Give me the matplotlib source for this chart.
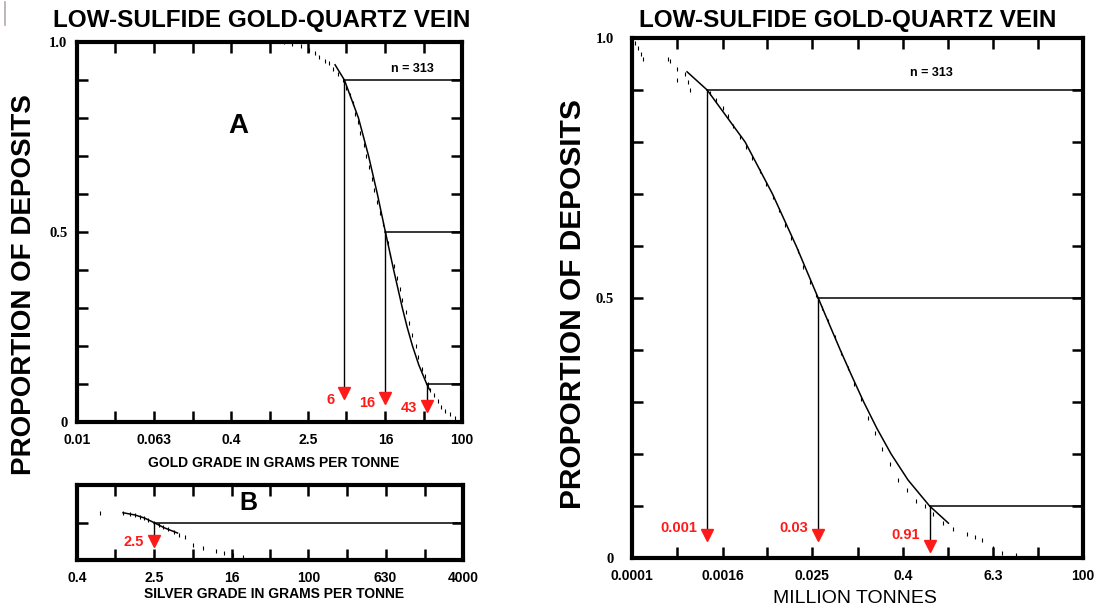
import matplotlib
matplotlib.use("Agg")
import matplotlib.pyplot as plt
from matplotlib.lines import Line2D

# --- data ------------------------------------------------------------------
title = "LOW-SULFIDE GOLD-QUARTZ VEIN"

# A: gold grade (g/t) vs proportion of deposits
gold_grade = [1.4, 1.7, 2.1, 2.6, 3.0, 3.3, 3.8, 4.2, 4.6, 5.2, 5.8, 6.2, 6.8, 7.3,
              7.8, 8.3, 8.8, 9.5, 10.0, 10.8, 11.5, 12.2, 13.0, 14.0, 15.0, 16.0,
              17.0, 18.0, 19.5, 21.0, 22.5, 24.0, 26.0, 28.0, 30.5, 33.0, 35.0,
              38.0, 41.0, 44.0, 47.0, 51.0, 56.0, 61.0, 67.0, 75.0, 85.0]
gold_prop = [1.0, 0.995, 0.99, 0.98, 0.97, 0.96, 0.95, 0.945, 0.93, 0.915, 0.9, 0.88,
             0.86, 0.84, 0.81, 0.79, 0.76, 0.73, 0.7, 0.67, 0.64, 0.61, 0.58, 0.55,
             0.52, 0.5, 0.47, 0.44, 0.41, 0.38, 0.35, 0.32, 0.29, 0.26, 0.23, 0.2,
             0.17, 0.14, 0.12, 0.1, 0.085, 0.07, 0.055, 0.04, 0.03, 0.02, 0.01]
gold_fit_x = [4.8, 6.0, 8.4, 10.7, 13.2, 16.0, 19.5, 24.0, 26.9, 30.6, 35.6, 43.0, 46.0]
gold_fit_p = [0.94, 0.9, 0.8, 0.7, 0.6, 0.5, 0.4, 0.3, 0.25, 0.2, 0.15, 0.1, 0.085]
gold_pct = [6, 16, 43]
gold_pct_prop = [0.9, 0.5, 0.1]
gold_pct_labels = ["6", "16", "43"]

# B: silver grade (g/t)
silver_grade = [0.69, 1.2, 1.4, 1.6, 1.8, 2.0, 2.2, 2.5, 2.8, 3.1, 3.5, 4.0, 4.6,
                5.3, 6.3, 8.1, 11.0, 13.5, 16.7, 21.0]
silver_prop = [0.63, 0.63, 0.62, 0.6, 0.58, 0.56, 0.53, 0.5, 0.47, 0.44, 0.41,
               0.37, 0.34, 0.31, 0.2, 0.16, 0.12, 0.1, 0.07, 0.04]
silver_fit_x = [1.2, 1.6, 2.0, 2.5, 3.2, 4.4]
silver_fit_p = [0.63, 0.6, 0.56, 0.5, 0.43, 0.36]
silver_pct = [2.5]
silver_pct_prop = [0.5]
silver_pct_labels = ["2.5"]

# right: tonnage (million tonnes)
tonnage = [0.0001, 0.00011, 0.00012, 0.00013, 0.00014, 0.0003, 0.00032, 0.0004,
           0.0004, 0.0005, 0.00055, 0.0006, 0.0011, 0.0013, 0.0016, 0.0019,
           0.0022, 0.0027, 0.0033, 0.004, 0.005, 0.006, 0.0075, 0.009, 0.011,
           0.013, 0.016, 0.019, 0.023, 0.028, 0.034, 0.04, 0.05, 0.06, 0.075,
           0.09, 0.11, 0.14, 0.17, 0.21, 0.27, 0.35, 0.45, 0.6, 0.8, 1.0, 1.37,
           1.86, 2.9, 3.7, 4.5, 6.3, 8.4, 13.0]
tonnage_prop = [1.0, 0.99, 0.98, 0.97, 0.96, 0.96, 0.955, 0.94, 0.92, 0.93, 0.915,
                0.9, 0.895, 0.88, 0.865, 0.85, 0.83, 0.81, 0.79, 0.77, 0.745, 0.72,
                0.695, 0.67, 0.64, 0.615, 0.59, 0.56, 0.53, 0.505, 0.48, 0.455,
                0.425, 0.395, 0.365, 0.335, 0.305, 0.27, 0.24, 0.21, 0.18, 0.15,
                0.13, 0.11, 0.1, 0.085, 0.067, 0.055, 0.046, 0.04, 0.035, 0.02,
                0.01, 0.005]
tonnage_fit_x = [0.00054, 0.001, 0.0032, 0.0074, 0.0153, 0.03, 0.042, 0.059, 0.084,
                 0.121, 0.18, 0.28, 0.47, 0.91, 1.62]
tonnage_fit_p = [0.935, 0.9, 0.8, 0.7, 0.6, 0.5, 0.45, 0.4, 0.35, 0.3, 0.25, 0.2,
                 0.15, 0.1, 0.067]
tonnage_pct = [0.001, 0.03, 0.91]
tonnage_pct_prop = [0.9, 0.5, 0.1]
tonnage_pct_labels = ["0.001", "0.03", "0.91"]

gold_ticks = [0.01, 0.025, 0.063, 0.16, 0.4, 1, 2.5, 6.3, 16, 40, 100]
gold_ticklabels = ["0.01", "", "0.063", "", "0.4", "", "2.5", "", "16", "", "100"]
silver_ticks = [0.4, 1, 2.5, 6.3, 16, 40, 100, 250, 630, 1600, 4000]
silver_ticklabels = ["0.4", "", "2.5", "", "16", "", "100", "", "630", "", "4000"]
tonnage_ticks = [0.0001, 0.0004, 0.0016, 0.0063, 0.025, 0.1, 0.4, 1.6, 6.3, 25, 100]
tonnage_ticklabels = ["0.0001", "", "0.0016", "", "0.025", "", "0.4", "", "6.3", "", "100"]
prop_ticks = [0, 0.1, 0.2, 0.3, 0.4, 0.5, 0.6, 0.7, 0.8, 0.9, 1.0]
prop_ticklabels = ["0", "", "", "", "", "0.5", "", "", "", "", "1.0"]

RED = "#ff1a1a"
SERIF = ["Liberation Serif", "DejaVu Serif"]
plt.rcParams["font.family"] = ["Liberation Sans", "DejaVu Sans"]


def setup_axes(ax, xlim, xticks, xlabels, yticks, ylabels, ypad):
    ax.set_xscale("log")
    ax.set_xlim(*xlim)
    ax.set_ylim(0, 1)
    ax.set_xticks(xticks, xlabels)
    ax.set_yticks(yticks, ylabels)
    ax.xaxis.set_minor_locator(plt.NullLocator())
    ax.tick_params(direction="in", length=8, width=1.8, top=True, right=True)
    ax.tick_params(axis="x", pad=8, labelsize=10)
    ax.tick_params(axis="y", pad=ypad, labelsize=10.5)
    for lab in ax.get_xticklabels():
        lab.set_fontweight("bold")
    for lab in ax.get_yticklabels():
        lab.set_fontweight("bold")
        lab.set_family(SERIF)
    for sp in ax.spines.values():
        sp.set_linewidth(3)


def draw_curve(ax, px, pp, fx, fp, pct, pct_prop, right_end):
    ax.plot(px, pp, ls="none", marker="|", ms=3, mew=0.8, color="black")
    ax.plot(fx, fp, color="black", lw=1.1)
    for x, p in zip(pct, pct_prop):
        ax.plot([x, right_end], [p, p], color="black", lw=1.1)


def draw_arrows(ax, pct, pct_prop, tips, labels, label_y):
    for x, p, t, lab, ly in zip(pct, pct_prop, tips, labels, label_y):
        ax.plot([x, x], [p, t], color="black", lw=1)
        ax.plot([x], [t], marker="v", ms=8, color=RED, mec=RED)
        ax.annotate(lab, xy=(x, ly), xytext=(-7, 0), textcoords="offset points",
                    ha="right", va="center", color=RED, fontsize=10.5,
                    fontweight="bold")


fig = plt.figure(figsize=(10.95, 6.15), dpi=100)

# panel A
axA = fig.add_axes([77 / 1095, 1 - 422 / 615, 385 / 1095, 380 / 615])
setup_axes(axA, (0.01, 100), gold_ticks, gold_ticklabels, prop_ticks,
           prop_ticklabels, 7)
draw_curve(axA, gold_grade, gold_prop, gold_fit_x, gold_fit_p, gold_pct,
           gold_pct_prop, 100)
draw_arrows(axA, gold_pct, gold_pct_prop, [0.077, 0.063, 0.042],
            gold_pct_labels, [0.058, 0.05, 0.037])
axA.text(0.87, 0.93, "n = 313", transform=axA.transAxes, ha="center",
         va="center", fontsize=9, fontweight="bold")
axA.text(0.418, 0.78, "A", transform=axA.transAxes, ha="center", va="center",
         fontsize=20, fontweight="bold")
axA.set_xlabel("GOLD GRADE IN GRAMS PER TONNE", fontsize=10, fontweight="bold",
               va="center")
axA.xaxis.set_label_coords(0.51, -0.108)

# panel B
axB = fig.add_axes([77 / 1095, 1 - 560 / 615, 386 / 1095, 75 / 615])
setup_axes(axB, (0.4, 4000), silver_ticks, silver_ticklabels, [0.5], [""], 7)
draw_curve(axB, silver_grade, silver_prop, silver_fit_x, silver_fit_p,
           silver_pct, silver_pct_prop, 4000)
draw_arrows(axB, silver_pct, silver_pct_prop, [0.25], silver_pct_labels, [0.24])
axB.text(0.444, 0.76, "B", transform=axB.transAxes, ha="center", va="center",
         fontsize=18, fontweight="bold")
axB.set_xlabel("SILVER GRADE IN GRAMS PER TONNE", fontsize=10, fontweight="bold",
               va="center")
axB.xaxis.set_label_coords(0.51, -0.453)

# right panel: tonnage
axT = fig.add_axes([632 / 1095, 1 - 558 / 615, 451 / 1095, 520 / 615])
setup_axes(axT, (0.0001, 100), tonnage_ticks, tonnage_ticklabels, prop_ticks,
           prop_ticklabels, 13)
draw_curve(axT, tonnage, tonnage_prop, tonnage_fit_x, tonnage_fit_p,
           tonnage_pct, tonnage_pct_prop, 100)
draw_arrows(axT, tonnage_pct, tonnage_pct_prop, [0.044, 0.044, 0.023],
            tonnage_pct_labels, [0.058, 0.058, 0.044])
axT.text(0.665, 0.933, "n = 313", transform=axT.transAxes, ha="center",
         va="center", fontsize=9, fontweight="bold")
axT.set_xlabel("MILLION TONNES", fontsize=14, va="center")
axT.xaxis.set_label_coords(0.494, -0.077)

# titles and y labels
fig.text(262 / 1095, 1 - 20 / 615, title, ha="center", va="center",
         fontsize=17.5, fontweight="bold")
fig.text(848 / 1095, 1 - 20 / 615, title, ha="center", va="center",
         fontsize=17.5, fontweight="bold")
fig.text(24 / 1095, 1 - 285 / 615, "PROPORTION OF DEPOSITS", rotation=90,
         ha="center", va="center", fontsize=20, fontweight="bold")
fig.text(573 / 1095, 1 - 304 / 615, "PROPORTION OF DEPOSITS", rotation=90,
         ha="center", va="center", fontsize=21.5, fontweight="bold")

# small grey mark at the top-left corner of the scan
fig.add_artist(Line2D([5 / 1095, 5 / 1095], [1 - 2 / 615, 1 - 25 / 615],
                      color="#b8a8a8", lw=1.2))

fig.savefig("out.png", dpi=100)
